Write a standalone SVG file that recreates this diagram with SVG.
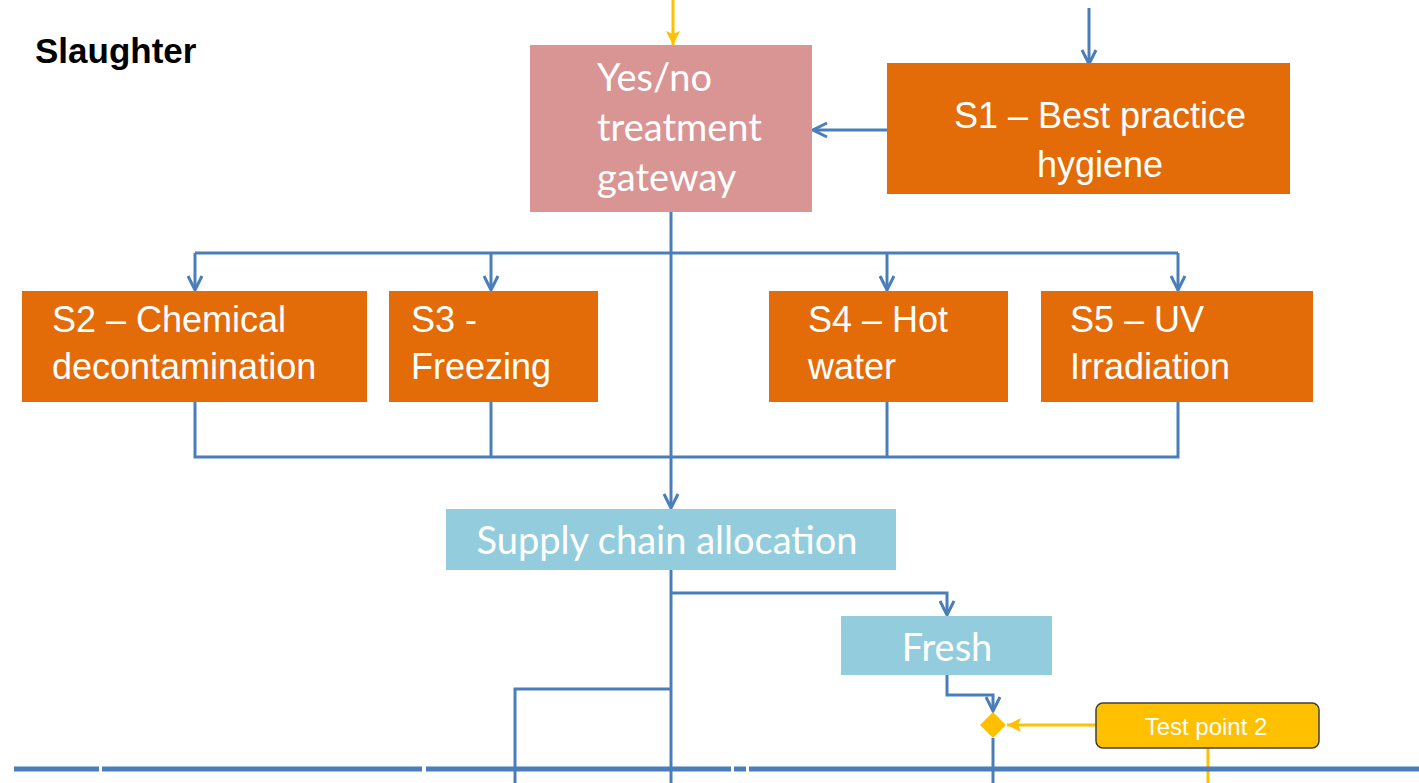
<svg xmlns="http://www.w3.org/2000/svg" width="1419" height="783" viewBox="0 0 1419 783">
<defs>
<style>
.orange{fill:#e36c09}
.pink{fill:#d99594}
.blue{fill:#93cddd}
.wA{fill:#ffffff;font-family:"Liberation Sans",Arial,sans-serif;font-size:36px}
.wC{fill:#ffffff;font-family:Lato,"Open Sans",sans-serif;font-size:38px}
.c{fill:none;stroke:#4a7ebb;stroke-width:3}
.y{fill:none;stroke:#ffc000;stroke-width:3}
</style>
<marker id="arr" viewBox="0 0 18 18" refX="16" refY="9" markerWidth="18" markerHeight="18" orient="auto" markerUnits="userSpaceOnUse">
<path d="M2,2 L16,9 L2,16" fill="none" stroke="#4a7ebb" stroke-width="3"/>
</marker>
<marker id="yarr" viewBox="0 0 16 16" refX="15" refY="8" markerWidth="16" markerHeight="16" orient="auto" markerUnits="userSpaceOnUse">
<path d="M1,1 L15,8 L1,15 L4,8 Z" fill="#ffc000"/>
</marker>
</defs>
<rect width="1419" height="783" fill="#ffffff"/>
<text x="35" y="63" font-family="Liberation Sans,Arial,sans-serif" font-weight="bold" font-size="35" fill="#000000">Slaughter</text>

<g id="connectors">
<path class="y" d="M673,0 V45" marker-end="url(#yarr)"/>
<path class="c" d="M1089,8 V64" marker-end="url(#arr)"/>
<path class="c" d="M887,130 H813" marker-end="url(#arr)"/>
<path class="c" d="M671,212 V508" marker-end="url(#arr)"/>
<path class="c" d="M195,253 H1178"/>
<path class="c" d="M195,253 V290" marker-end="url(#arr)"/>
<path class="c" d="M491,253 V290" marker-end="url(#arr)"/>
<path class="c" d="M887,253 V290" marker-end="url(#arr)"/>
<path class="c" d="M1178,253 V290" marker-end="url(#arr)"/>
<path class="c" d="M195,402 V457 H1178 V402"/>
<path class="c" d="M491,402 V457"/>
<path class="c" d="M887,402 V457"/>
<path class="c" d="M671,570 V783"/>
<path class="c" d="M671,593 H947 V615" marker-end="url(#arr)"/>
<path class="c" d="M947,675 V695 H993 V711" marker-end="url(#arr)"/>
<path class="c" d="M671,689 H515 V783"/>
<path class="c" d="M993,738 V783"/>
<path class="y" d="M1096,725 H1007" marker-end="url(#yarr)"/>
<path class="y" d="M1208,748 V783"/>
<g stroke="#4a7ebb" stroke-width="5">
<path d="M14,769 H99"/>
<path d="M102,769 H422"/>
<path d="M426,769 H731"/>
<path d="M734,769 H746"/>
<path d="M749,769 H1419"/>
</g>
</g>

<g id="gateway">
<rect class="pink" x="530" y="45" width="282" height="167"/>
<text class="wC" x="597" y="91">Yes/no</text>
<text class="wC" x="597" y="141">treatment</text>
<text class="wC" x="597" y="191">gateway</text>
</g>
<g id="s1">
<rect class="orange" x="887" y="63" width="403" height="131"/>
<text class="wA" x="1100" y="128" text-anchor="middle">S1 – Best practice</text>
<text class="wA" x="1100" y="177" text-anchor="middle">hygiene</text>
</g>
<g id="s2">
<rect class="orange" x="22" y="291" width="345" height="111"/>
<text class="wA" x="52" y="332">S2 – Chemical</text>
<text class="wA" x="52" y="379">decontamination</text>
</g>
<g id="s3">
<rect class="orange" x="389" y="291" width="209" height="111"/>
<text class="wA" x="411" y="332">S3 -</text>
<text class="wA" x="411" y="379">Freezing</text>
</g>
<g id="s4">
<rect class="orange" x="769" y="291" width="239" height="111"/>
<text class="wA" x="808" y="332">S4 – Hot</text>
<text class="wA" x="808" y="379">water</text>
</g>
<g id="s5">
<rect class="orange" x="1041" y="291" width="272" height="111"/>
<text class="wA" x="1070" y="332">S5 – UV</text>
<text class="wA" x="1070" y="379">Irradiation</text>
</g>
<g id="supply">
<rect class="blue" x="446" y="509" width="450" height="61"/>
<text class="wC" x="667" y="554" text-anchor="middle">Supply chain allocation</text>
</g>
<g id="fresh">
<rect class="blue" x="841" y="616" width="211" height="59"/>
<text class="wC" x="947" y="661" text-anchor="middle">Fresh</text>
</g>
<g id="decision">
<path d="M993,712 L1006,725 L993,738 L980,725 Z" fill="#ffc000"/>
</g>
<g id="testpoint2">
<rect x="1096" y="703" width="223" height="45" rx="7" fill="#ffc000" stroke="#3f3f3f" stroke-width="1.5"/>
<text x="1206" y="735" text-anchor="middle" font-family="Liberation Sans,Arial,sans-serif" font-size="24" fill="#ffffff">Test point 2</text>
</g>
</svg>
